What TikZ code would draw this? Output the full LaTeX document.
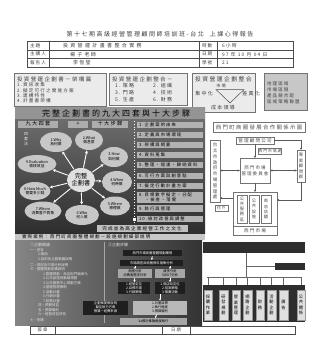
\documentclass[tikz,border=0pt]{standalone}
\usepackage{fontspec}
\setmainfont{Noto Sans CJK TC}
\newfontfamily\lsfont[LetterSpace=25]{Noto Sans CJK TC}
\usetikzlibrary{arrows.meta,shapes.geometric,calc}
\begin{document}
\begin{tikzpicture}[x=1pt,y=-1pt,
  every node/.style={inner sep=0pt,outer sep=0pt},
  fs/.style 2 args={font=\lsfont\fontsize{#1}{#2}\selectfont},
  fn/.style 2 args={font=\fontsize{#1}{#2}\selectfont},
  ink/.style={text=black!75},
  tline/.style={draw=black!70,line width=0.6pt},
  lbox/.style={draw=black!55,fill=black!8,line width=0.5pt},
  ell/.style={ellipse,fill=black!22,align=center,fn={3.8}{4.6},text=black},
  stepbox/.style={fill=black!32,text=black,fs={5.2}{6}},
  warr/.style={white,line width=0.9pt,-{Stealth[length=3pt,width=3.2pt]},shorten >=0.5pt,shorten <=0.5pt},
  arr/.style={draw=black!65,line width=0.45pt,-{Stealth[length=2.4pt,width=2.2pt]}},
  darr/.style={draw=black!65,line width=0.45pt,{Stealth[length=2.4pt,width=2.2pt]}-{Stealth[length=2.4pt,width=2.2pt]}},
  rbox/.style={draw=black!55,fill=white,line width=0.5pt,text=black!70,align=center},
  vbox/.style={draw=black!40,fill=black!12,text=black,align=center,fn={4.2}{5.2},anchor=north},
  lt/.style={text=black!12,anchor=west,fn={3.5}{4}},
  blk/.style={fill=black!88,text=white,align=center,fn={3.3}{4.1}},
  gbx/.style={fill=black!35,text=black,align=center,fn={3.3}{4.1}},
  wa/.style={white,line width=0.7pt,-{Stealth[length=2pt,width=2.2pt]}},
]
\fill[white] (0,0) rectangle (327,340);
\useasboundingbox (0,0) rectangle (327,340);

% ---------- title ----------
\node[fs={6}{7},ink] (title) at (160,34) {第十七期高級經營管理顧問師培訓班-台北\hspace{6pt}上課心得報告};

% ---------- header table ----------
\draw[tline] (27,41) rectangle (293,67);
\draw[tline] (27,50)--(293,50) (27,58.5)--(293,58.5)
  (49,41)--(49,67) (199,41)--(199,67) (217,41)--(217,67);
\node[fs={4.6}{5},ink,anchor=west] (t11) at (30,45.5) {主題};
\node[fs={4.6}{5},ink,anchor=west] (t21) at (30,54.2) {主講人};
\node[fs={4.6}{5},ink,anchor=west] (t31) at (30,62.8) {報告人};
\node[fs={5}{5},ink,anchor=west] (t12) at (63,45.5) {投 資 營 運 計 畫 書 整 合 實 務};
\node[fs={5}{5},ink,anchor=west] (t22) at (70,54.2) {楊 子 老師};
\node[fs={5}{5},ink,anchor=west] (t32) at (73,62.8) {李恆瑩};
\node[fs={4.6}{5},ink,anchor=west] (t13) at (202,45.5) {時數};
\node[fs={4.6}{5},ink,anchor=west] (t23) at (202,54.2) {日期};
\node[fs={4.6}{5},ink,anchor=west] (t33) at (202,62.8) {學號};
\node[fs={4.8}{5},ink,anchor=west] (t14) at (222,45.5) {6小時};
\node[fs={4.8}{5},ink,anchor=west] (t24) at (222,54.2) {97 年 10 月 04 日};
\node[fs={4.8}{5},ink,anchor=west] (t34) at (222,62.8) {21};

% ---------- second row boxes ----------
\draw[lbox] (14,73) rectangle (106,106);
\node[fs={5.5}{6},ink,anchor=west] (a0) at (17,79) {投資營運企劃書－架構篇};
\node[fs={4.6}{5},ink,anchor=west] (a1) at (17,85) {1.資訊收集};
\node[fs={4.6}{5},ink,anchor=west] (a2) at (17,90.3) {2.擬定可行之實施方案};
\node[fs={4.6}{5},ink,anchor=west] (a3) at (17,95.6) {3.建構特性};
\node[fs={4.6}{5},ink,anchor=west] (a4) at (17,101) {4.計畫書架構};

\draw[lbox] (109,73) rectangle (187,105);
\node[fs={5.5}{6},ink,anchor=west] (b0) at (112,79) {投資營運企劃整合－};
\node[fs={5}{5},ink,anchor=west] (b1) at (115,86) {1.\ 策略};
\node[fs={5}{5},ink,anchor=west] (b2) at (153,86) {2.\ 組織};
\node[fs={5}{5},ink,anchor=west] (b3) at (115,93) {3.\ 門路};
\node[fs={5}{5},ink,anchor=west] (b4) at (153,93) {4.\ 技術};
\node[fs={5}{5},ink,anchor=west] (b5) at (115,100) {5.\ 生產};
\node[fs={5}{5},ink,anchor=west] (b6) at (153,100) {6.\ 財務};

\draw[lbox] (192,73) rectangle (255,112);
\node[fs={5.8}{6},ink] (c0) at (223.5,79) {投資營運企劃整合};
\node[fs={4.2}{5},ink] (c1) at (221,86) {市場};
\draw[draw=black!70,line width=0.5pt] (216,89.5) -- (244,89.5) -- (230,103) -- cycle;
\node[fs={5}{5},ink] (c2) at (204,94) {集中化};
\node[fs={5}{5},ink] (c3) at (251,94) {差異化};
\node[fs={5}{5},ink] (c4) at (223,108) {成本領導};

\draw[draw=black!55,fill=black!22,line width=0.5pt] (264,73) rectangle (307,110);
\node[fs={4.5}{5},ink,anchor=west] (d1) at (267,84) {地理區域};
\node[fs={4.5}{5},ink,anchor=west] (d2) at (267,90) {市場區隔};
\node[fs={4.5}{5},ink,anchor=west] (d3) at (267,96) {產品競合配};
\node[fs={4.5}{5},ink,anchor=west] (d4) at (267,102) {區域策略聯盟};

% ---------- middle dark panel ----------
\shade[top color=black!55,bottom color=black!82] (15,107) rectangle (205,233);
\fill[black!42] (15,107) rectangle (205,119);
\node[fs={8}{9},text=black] (mtitle) at (116,113) {完整企劃書的九大四套與十大步驟};
\node[stepbox,minimum width=40,minimum height=7] (nine) at (38,124) {九大四套};
\node[stepbox,minimum width=20,minimum height=7] (plus) at (78,124) {+};
\node[stepbox,minimum width=36,minimum height=7] (ten) at (110,124) {十大步驟};
\node[fn={4}{4.8},text=black!10,align=center] (sifa) at (26,139) {四\\套\\法};

\node[ell,minimum width=28,minimum height=24,fill=black!12,fn={6.2}{7.2}] (C) at (81,180) {完整\\企劃書};
\node[ell,minimum width=32,minimum height=20] (E1) at (56,142) {1.Why\\為何做};
\node[ell,minimum width=28,minimum height=20] (E2) at (89,140) {2.What\\做甚麼};
\node[ell,minimum width=28,minimum height=20] (E3) at (114,157) {3.How\\如何做};
\node[ell,minimum width=30,minimum height=22] (E4) at (117,182) {4.When\\何時做};
\node[ell,minimum width=30,minimum height=19] (E5) at (115,206) {5.Where\\哪裡做};
\node[ell,minimum width=34,minimum height=20] (E6) at (82,215) {6.Who\\何人做};
\node[ell,minimum width=37,minimum height=19] (E7) at (43,211) {7.Whom\\消費客戶對象};
\node[ell,minimum width=31,minimum height=18] (E8) at (35,191) {8.How Much\\需要多少錢};
\node[ell,minimum width=39,minimum height=18] (E9) at (37,164) {9.Evaluation\\檢核效益};
\foreach \e in {E1,E2,E3,E4,E5,E6,E7,E8,E9} \draw[warr] (C) -- (\e);

\draw[white,dotted,line width=0.8pt] (134,121)--(134,222);
\fill[white] (132.5,217.5) rectangle (135.5,220.5);
\foreach \y/\t [count=\i] in {125/1.企劃案的由來,135/2.定義與市場環境,145/3.架構與綱要,155/4.資料蒐集,165/5.整理、過濾、歸納資料,175.7/6.可行方案與創意點,186.2/7.擬定行動計畫方案,208.5/9.執行與管理,218.7/10.檢討改善與調整}{
  \fill[black!30] (137,\y-3.2) rectangle (203,\y+3.2);
  \node[fs={4.3}{5},text=black,anchor=west] (s\i) at (139,\y) {\t};
}
\fill[black!30] (137,192) rectangle (203,203);
\node[fs={4.3}{5},text=black,anchor=north west,align=left] (s8) at (139,193) {8.目標數字擬定、分配\\\hspace{6pt}、檢查、落實};

\fill[black!25] (97,225) rectangle (188,232);
\node[fs={4.6}{5},text=black] (culture) at (142,228.5) {完成並為高企業經營工作之文化};

% strip
\fill[black!22] (15,233.5) rectangle (205,240);
\node[fs={4.5}{5},text=black,anchor=west] (case) at (22,236.8) {實際案例：西門町商圈整體規劃－設施規劃細部說明};

% ---------- bottom left / middle panel ----------
\shade[left color=black!48,right color=black!80] (15,240) rectangle (202,325);
\draw[black!35,line width=0.5pt] (104,242)--(104,323);
\node[lt,fn={4}{4.5}] (p0) at (30,245) {①企劃概論};
\node[lt] (p1) at (30,250) {一、前言};
\node[lt] (p2) at (38,254.5) {1.緣由};
\node[lt] (p3) at (38,259) {2.目的及企劃範圍說明};
\node[lt] (p4) at (30,265) {二、現況及市場分析說明};
\node[lt] (p5) at (30,269.5) {三、整體規劃架構說明};
\node[lt] (p6) at (43,274) {1.整體規劃、商店街門面美化};
\node[lt] (p7) at (43,278.5) {2.公共設施與動線規劃};
\node[lt] (p8) at (43,283) {3.公共服務中心規劃方案};
\node[lt] (p9) at (43,287.5) {4.營運管理機制};
\node[lt] (p10) at (43,292) {5.活動計畫};
\node[lt] (p11) at (43,296.5) {6.行銷計畫};
\node[lt] (p12) at (43,301) {7.財務計畫};
\node[lt] (p13) at (38,305.5) {四、預期效益};
\node[lt] (p14) at (38,310) {五、預算編列};
\node[lt] (p15) at (38,314.5) {六、經營效益評估};
\node[lt] (p16) at (30,320.5) {七、附錄};

\node[lt,fn={4}{4.5}] (q0) at (108,245) {②企劃步驟};
\node[blk,minimum width=59,minimum height=6] (F1) at (152.5,253) {西門市場商圈整體規劃構想};
\node[blk,minimum width=63,minimum height=6] (F2) at (151.5,263) {市場調查與商圈資料蒐集分析};
\node[gbx,minimum width=34,minimum height=9] (F3) at (135,273.5) {商圈分析\\消費者需求分析};
\node[gbx,minimum width=30,minimum height=9] (F4) at (170,273.5) {競爭分析\\SWOT分析};
\node[blk,minimum width=32,minimum height=12] (F5) at (134,288) {1.經營定位\\2.目標市場\\3.行銷策略};
\node[blk,minimum width=30,minimum height=12] (F6) at (170,288) {1.商店街定位\\2.招商策略\\3.推廣活動};
\node[blk,minimum width=45,minimum height=14] (F7) at (105.5,307.5) {企劃案提案說明\\擬定執行方案\\預算－經費來源};
\node[gbx,minimum width=54,minimum height=14,fill=black!28] (F8) at (160,307.5) {1.計畫目標\\2.執行進度\\3.預算編列};
\node[gbx,minimum width=67,minimum height=7] (F9) at (153.5,321.5) {3a預計推動進度執行};
\draw[wa] (F1) -- (F2);
\draw[wa] (F2.south -| F3) -- (F3);
\draw[wa] (F2.south -| F4) -- (F4);
\draw[wa] (F3) -- (F5);
\draw[wa] (F4) -- (F6);
\draw[wa] (F5.south -| F8) -- (F8);
\draw[wa] (F8) -- (F9);

% ---------- right network diagram ----------
\node[rbox,minimum width=92,minimum height=10,fs={5.4}{6}] (E) at (259,127) {西門町商圈發展合作關係示圖};
\node[rbox,minimum width=38,minimum height=7,fs={4.6}{5}] (G) at (255,140.5) {管理顧問公司};
\node[rbox,minimum width=22,minimum height=6,fs={3.8}{4}] (S) at (270,151) {西門市場處};
\node[rbox,minimum width=10,minimum height=62,fn={4.5}{5.8}] (L) at (215,171) {台\\北\\市\\政\\府\\市\\場\\管\\理\\處};
\node[rbox,minimum width=30,minimum height=25,fs={4.5}{6}] (M) at (255,170.5) {西門市場\\管理委員會};
\node[rbox,minimum width=8,minimum height=32,fn={4.3}{5.6}] (R) at (301,166) {專\\業\\顧\\問\\群};
\node[rbox,minimum width=44,minimum height=43] (X) at (255,213.5) {};
\node[rbox,minimum width=13,minimum height=6,fs={3.8}{4}] (H) at (221.5,208) {住戶};
\node[rbox,minimum width=10,minimum height=28,fn={4.2}{5.2}] (X1) at (242,209) {公\\共\\服\\務\\區};
\node[rbox,minimum width=10,minimum height=28,fn={4.2}{5.2}] (X2) at (254,209) {公\\共\\設\\施};
\node[rbox,minimum width=10,minimum height=28,fn={4.2}{5.2}] (X3) at (266,209) {商\\店\\店\\舖};
\draw[draw=black!55,line width=0.5pt] (X.west |- 0,226) -- (X.east |- 0,226);
\node[fs={4.6}{5},text=black!70] (Xt) at (255,230.5) {西門市場};
\draw[arr] (G) -- (M);
\draw[arr] (G.east) -| (R.north);
\draw[darr] (L.east |- M.west) -- (M.west);
\draw[darr] (M.east) -- (R.west |- M.east);
\draw[arr] (M) -- (X);
\coordinate (xr) at (277,200);
\draw[arr] (R.south) |- (xr);
\coordinate (xl) at (233,198);
\draw[arr] (xl) -- (L.east |- xl);

% ---------- right org chart ----------
\node[fill=black!82,minimum width=102,minimum height=11] (T1) at (254,247.5) {};
\node[fill=black!82,minimum width=30,minimum height=7] (T2) at (290,266.5) {};
\coordinate (o1) at (246,253);
\coordinate (o2) at (246,277);
\draw[black!60,line width=0.5pt] (o1) -- (o2);
\draw[black!60,line width=0.5pt] (o1 |- T2.west) -- (T2.west);
\draw[black!60,line width=0.5pt] (207,277) -- (301,277);
\fill[black!82] (203,285) rectangle (305,322);
\foreach \x/\t [count=\i] in {208/採\\購\\作\\業,223.5/研\\發\\規\\劃,236/營\\業\\管\\理,247.5/網\\路\\企\\劃,260/財\\務,271.5/活\\動\\企\\劃,283.5/廣\\告,301/公\\共\\關\\係}{
  \draw[black!60,line width=0.5pt] (\x,277) -- (\x,285);
  \node[vbox,minimum width=8.5,minimum height=30] (V\i) at (\x,290) {\t};
}

% ---------- bottom table ----------
\draw[tline] (30,326) rectangle (295,334);
\draw[tline] (55,326)--(55,334) (162,326)--(162,334) (190,326)--(190,334);
\node[fs={4.4}{5},ink] (sig) at (42.5,330) {簽章};
\node[fs={4.4}{5},ink] (dat) at (176,330) {日期};
\end{tikzpicture}
\end{document}
